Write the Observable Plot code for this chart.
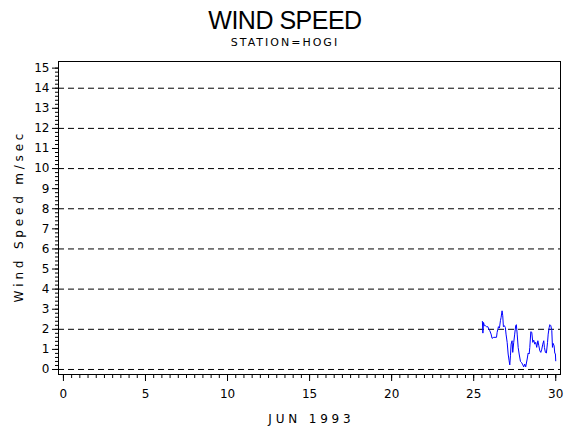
<!DOCTYPE html>
<html>
<head>
<meta charset="utf-8">
<script src="https://cdn.jsdelivr.net/npm/d3@7"></script>
<script src="https://cdn.jsdelivr.net/npm/@observablehq/plot@0.6"></script>
<style>
  body { margin: 0; background: #fff; width: 570px; height: 430px; overflow: hidden; }
  #title { position: absolute; left: 0; top: 5px; width: 570px; text-align: center;
           font-family: "Liberation Sans", Arial, sans-serif; font-size: 25px; line-height: 30px; letter-spacing: -0.5px; }
  #subtitle { position: absolute; left: 0; top: 36px; width: 570px; text-align: center;
           font-family: "DejaVu Sans", sans-serif; font-size: 11px; line-height: 14px; letter-spacing: 2px; }
  #chart { position: absolute; left: 0; top: 52px; }
  svg text { font-family: "DejaVu Sans", sans-serif; }
</style>
</head>
<body>
<div id="title">WIND SPEED</div>
<div id="subtitle">STATION=HOGI</div>
<div id="chart"></div>
<script>
const days = [25.53, 25.56, 25.60, 25.65, 25.71, 25.78, 25.86, 25.92, 25.98, 26.06, 26.12, 26.22, 26.39, 26.43, 26.51, 26.57, 26.63, 26.67, 26.73, 26.77, 26.81, 26.87, 26.93, 26.97, 27.04, 27.10, 27.16, 27.20, 27.24, 27.28, 27.34, 27.38, 27.44, 27.50, 27.56, 27.60, 27.65, 27.71, 27.77, 27.85, 27.91, 27.97, 28.05, 28.11, 28.17, 28.26, 28.32, 28.38, 28.42, 28.48, 28.54, 28.60, 28.66, 28.72, 28.78, 28.84, 28.91, 28.97, 29.03, 29.09, 29.15, 29.21, 29.27, 29.31, 29.37, 29.43, 29.50, 29.54, 29.60, 29.64, 29.70, 29.76, 29.80, 29.84, 29.90, 29.94, 29.98, 30.00];
const speeds = [2.39, 1.81, 2.34, 2.18, 2.18, 2.13, 2.13, 2.01, 1.93, 1.76, 1.55, 1.60, 1.60, 1.85, 2.13, 2.06, 2.43, 2.59, 2.92, 2.68, 2.13, 2.18, 2.09, 1.76, 1.35, 0.77, 0.43, 0.23, 0.68, 1.26, 1.43, 0.85, 1.35, 1.76, 2.18, 2.23, 1.76, 1.10, 0.77, 0.40, 0.35, 0.27, 0.13, 0.27, 0.13, 0.52, 0.82, 0.77, 1.10, 1.88, 1.85, 1.35, 1.46, 1.26, 1.35, 1.10, 1.43, 1.18, 0.93, 0.85, 1.01, 1.26, 1.43, 1.10, 0.85, 0.82, 1.35, 1.76, 2.09, 2.23, 2.18, 1.93, 1.10, 1.30, 1.18, 0.82, 0.77, 0.43];
const yMajor = d3.range(0, 16, 1);
const yMinor = d3.range(0, 15.01, 0.2);
const xMajor = [0, 5, 10, 15, 20, 25, 30];
const xMinor = d3.range(0, 30.01, 0.5);
const gridValues = [0, 2, 4, 6, 8, 10, 12, 14];

const data = days.map((d, i) => ({day: d, speed: speeds[i]}));

const chart = Plot.plot({
  width: 570,
  height: 378,
  marginLeft: 58,
  marginRight: 10,
  marginTop: 9,
  marginBottom: 56,
  style: {fontSize: "12px", color: "#000"},
  x: {domain: [-0.3, 30.29]},
  y: {domain: [-0.25, 15.33]},
  marks: [
    Plot.ruleY(gridValues, {stroke: "#000", strokeDasharray: "6,4", strokeWidth: 1}),
    Plot.axisY({ticks: yMinor, tickSize: 3, text: null, label: null, stroke: "#000"}),
    Plot.axisY({ticks: yMajor, tickSize: 6, tickPadding: 3, tickFormat: d => String(d), label: "W i n d   S p e e d   m / s e c", labelAnchor: "center", labelArrow: "none", labelOffset: 44, stroke: "#000", fill: "#000", fontSize: 12}),
    Plot.axisX({ticks: xMinor, tickSize: 4, text: null, label: null, stroke: "#000"}),
    Plot.axisX({ticks: xMajor, tickSize: 7, tickPadding: 8, tickFormat: d => String(d), label: "J U N   1 9 9 3", labelAnchor: "center", labelArrow: "none", labelOffset: 48, stroke: "#000", fill: "#000", fontSize: 12}),
    Plot.frame({stroke: "#000", strokeWidth: 1}),
    Plot.line(data, {x: "day", y: "speed", stroke: "#0000ff", strokeWidth: 1})
  ]
});
document.getElementById("chart").appendChild(chart);
</script>
</body>
</html>
